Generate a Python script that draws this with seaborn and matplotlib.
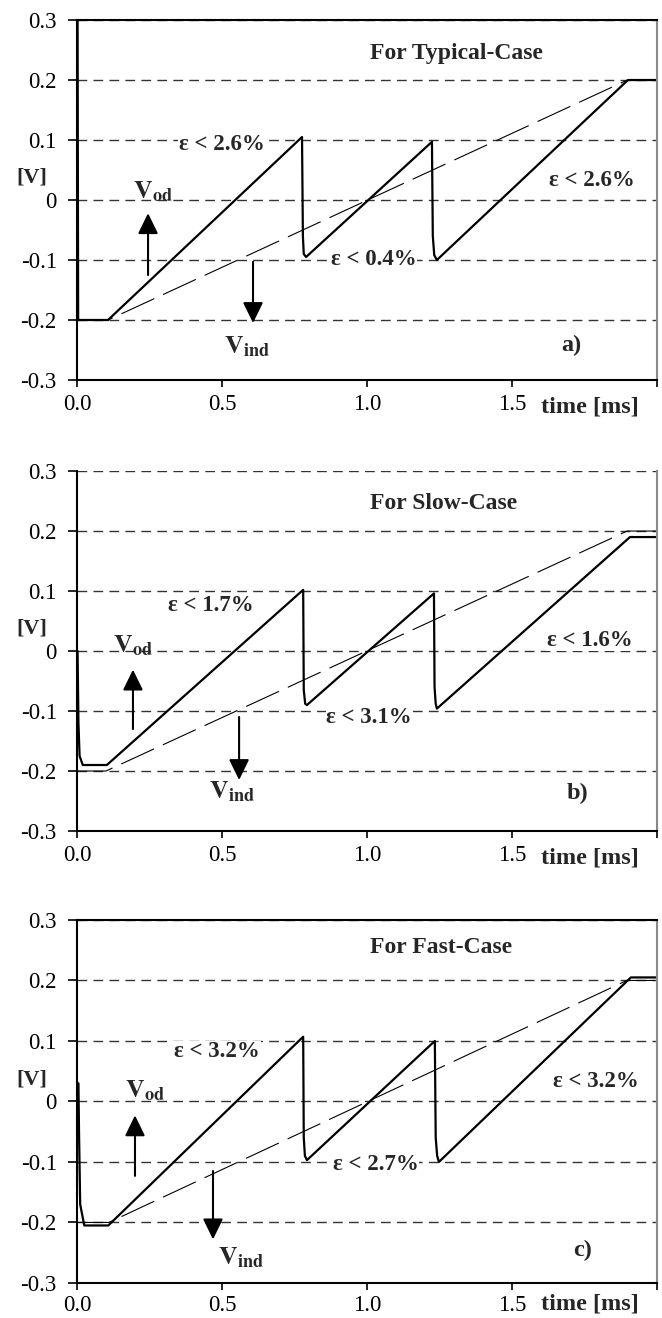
import numpy as np
import pandas as pd
import matplotlib.pyplot as plt
import seaborn as sns

# ---- data (time in ms, voltage in V) ----
# V_ind: the reference ramp (thin dashed line)
t_ind_a = [0.0, 0.107, 1.898, 2.0]
v_ind_a = [-0.2, -0.2, 0.2, 0.2]
t_ind_b = [0.0, 0.10, 1.897, 2.0]
v_ind_b = [-0.2, -0.2, 0.2, 0.2]
t_ind_c = [0.0, 0.11, 1.896, 2.0]
v_ind_c = [-0.2, -0.2, 0.2, 0.2]

# V_od: the sawtooth output (solid line)
t_od_a = [0.002, 0.004, 0.107, 0.776, 0.779, 0.782, 0.790, 1.224, 1.227, 1.232, 1.241, 1.900, 2.0]
v_od_a = [0.3, -0.2, -0.2, 0.105, -0.06, -0.09, -0.095, 0.097, -0.06, -0.092, -0.100, 0.200, 0.200]
t_od_b = [0.002, 0.005, 0.009, 0.020, 0.103, 0.780, 0.782, 0.787, 0.793, 1.231, 1.233, 1.237, 1.241, 1.907, 2.0]
v_od_b = [0.0, -0.12, -0.175, -0.19, -0.19, 0.102, -0.065, -0.088, -0.090, 0.096, -0.06, -0.088, -0.096, 0.190, 0.190]
t_od_c = [0.005, 0.007, 0.011, 0.025, 0.108, 0.780, 0.782, 0.786, 0.793, 1.234, 1.237, 1.242, 1.248, 1.910, 2.0]
v_od_c = [0.03, -0.05, -0.17, -0.205, -0.205, 0.107, -0.06, -0.09, -0.097, 0.100, -0.06, -0.09, -0.100, 0.205, 0.205]

titles = ["For Typical-Case", "For Slow-Case", "For Fast-Case"]
title_y = [0.244, 0.246, 0.255]
panel_tags = ["a)", "b)", "c)"]
y_ticks = [-0.3, -0.2, -0.1, 0.0, 0.1, 0.2, 0.3]
y_tick_labels = ["-0.3", "-0.2", "-0.1", "0", "0.1", "0.2", "0.3"]
x_ticks = [0.0, 0.5, 1.0, 1.5, 2.0]
x_tick_labels = ["0.0", "0.5", "1.0", "1.5", ""]

# error labels per panel: (text, t, v, ha)
err_labels = [
    [("ε < 2.6%", 0.648, 0.092, "right"), ("ε < 0.4%", 1.022, -0.100, "center"), ("ε < 2.6%", 1.774, 0.033, "center")],
    [("ε < 1.7%", 0.462, 0.076, "center"), ("ε < 3.1%", 1.007, -0.111, "center"), ("ε < 1.6%", 1.768, 0.018, "center")],
    [("ε < 3.2%", 0.483, 0.082, "center"), ("ε < 2.7%", 1.030, -0.105, "center"), ("ε < 3.2%", 1.790, 0.033, "center")],
]
# V_od label/arrow and V_ind label/arrow per panel
vod_label = [(0.262, 0.002), (0.193, -0.003), (0.234, 0.006)]
vod_arrow = [((0.245, -0.125), (0.245, -0.022)), ((0.193, -0.130), (0.193, -0.031)), ((0.200, -0.123), (0.200, -0.023))]
vind_label = [(0.586, -0.256), (0.534, -0.245), (0.564, -0.270)]
vind_arrow = [((0.607, -0.103), (0.607, -0.205)), ((0.559, -0.110), (0.559, -0.215)), ((0.469, -0.115), (0.469, -0.228))]
tag_pos = [(1.704, -0.242), (1.725, -0.238), (1.745, -0.246)]

sns.set_theme(style="ticks")
plt.rcParams["font.family"] = ["Liberation Serif", "DejaVu Serif"]
plt.rcParams["mathtext.fontset"] = "stix"
plt.rcParams["lines.scale_dashes"] = False

fig = plt.figure(figsize=(6.62, 13.18), dpi=100)
boxes = [
    [0.1163, 0.7117, 0.8761, 0.2731],
    [0.1163, 0.3695, 0.8761, 0.2731],
    [0.1163, 0.0266, 0.8761, 0.2754],
]
xlabel_drop = [27, 27, 21]   # pixels below the axis for "time [ms]"
xtick_pad = [5, 5, 3.5]

traces = [
    (t_ind_a, v_ind_a, t_od_a, v_od_a),
    (t_ind_b, v_ind_b, t_od_b, v_od_b),
    (t_ind_c, v_ind_c, t_od_c, v_od_c),
]

for i, box in enumerate(boxes):
    ax = fig.add_axes(box)
    t_ind, v_ind, t_od, v_od = traces[i]
    df_ind = pd.DataFrame({"t": t_ind, "v": v_ind})
    df_od = pd.DataFrame({"t": t_od, "v": v_od})

    sns.lineplot(data=df_ind, x="t", y="v", ax=ax, color="black", lw=0.8,
                 estimator=None, sort=False)
    ax.lines[-1].set_dashes((26, 7))
    sns.lineplot(data=df_od, x="t", y="v", ax=ax, color="black", lw=1.6,
                 estimator=None, sort=False)

    ax.set_xlim(0, 2.0)
    ax.set_ylim(-0.3, 0.3)
    ax.set_yticks(y_ticks)
    ax.set_yticklabels(y_tick_labels)
    ax.set_xticks(x_ticks)
    ax.set_xticklabels(x_tick_labels)
    ax.set_xlabel("")
    ax.set_ylabel("")
    ax.tick_params(axis="y", direction="out", length=6.5, width=1.2, pad=8,
                   labelsize=16.5, colors="black", left=True)
    ax.tick_params(axis="x", direction="out", length=5, width=1.2, pad=xtick_pad[i],
                   labelsize=16.5, colors="black", bottom=True)

    ax.yaxis.grid(True, color="#333333", lw=1.0, linestyle=(0, (7, 4.5)))
    ax.xaxis.grid(False)
    ax.set_axisbelow(True)

    for side in ["left", "bottom"]:
        ax.spines[side].set_color("black")
        ax.spines[side].set_linewidth(1.5)
    ax.spines["right"].set_visible(True)
    ax.spines["right"].set_color("#888888")
    ax.spines["right"].set_linewidth(1.5)
    if i == 1:
        ax.spines["top"].set_visible(False)
    else:
        ax.spines["top"].set_visible(True)
        ax.spines["top"].set_color("black")
        ax.spines["top"].set_linewidth(1.5)

    ax.text(1.01, title_y[i], titles[i], ha="left", va="center",
            fontsize=17, fontweight="bold")
    for txt, tx, ty, ha in err_labels[i]:
        ax.text(tx, ty, txt, ha=ha, va="center", fontsize=16.5, fontweight="bold",
                bbox=dict(facecolor="white", edgecolor="none", pad=0.5))

    ax.text(vod_label[i][0], vod_label[i][1], r"$\mathbf{V_{od}}$",
            ha="center", va="baseline", fontsize=18.5)
    ax.text(vind_label[i][0], vind_label[i][1], r"$\mathbf{V_{ind}}$",
            ha="center", va="baseline", fontsize=18.5)
    for tail, tip in (vod_arrow[i], vind_arrow[i]):
        ax.annotate("", xy=tip, xytext=tail,
                    arrowprops=dict(arrowstyle="-|>,head_length=0.45,head_width=0.22",
                                    color="black", lw=1.5, mutation_scale=28,
                                    shrinkA=0, shrinkB=0))

    ax.text(tag_pos[i][0], tag_pos[i][1], panel_tags[i], ha="center", va="center",
            fontsize=17.5, fontweight="bold")
    ax.text(-0.078, 0.037, "[V]", transform=ax.get_yaxis_transform(),
            ha="center", va="center", fontsize=16, fontweight="bold")
    ax_h_px = box[3] * 1318
    ax.text(1.769, -xlabel_drop[i] / ax_h_px, "time [ms]", transform=ax.get_xaxis_transform(),
            ha="center", va="center", fontsize=17.5, fontweight="bold")

fig.savefig("out.png", dpi=100)
